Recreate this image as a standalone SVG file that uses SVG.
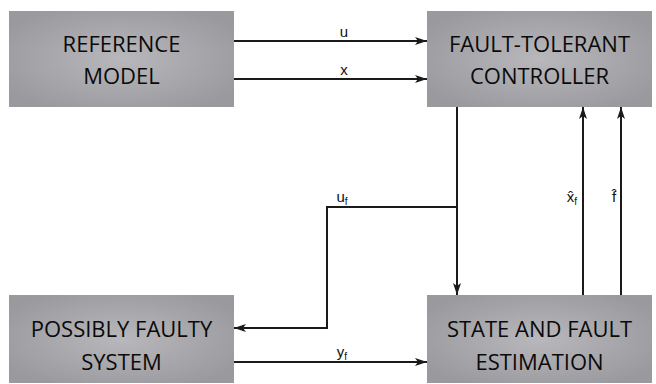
<svg xmlns="http://www.w3.org/2000/svg" width="656" height="384" viewBox="0 0 656 384">
  <defs>
    <radialGradient id="boxFill" cx="50%" cy="50%" r="60%">
      <stop offset="0" stop-color="#b8b8bc"/>
      <stop offset="1" stop-color="#9a9a9e"/>
    </radialGradient>
    <marker id="arrow" viewBox="0 0 12 8" refX="12" refY="4" markerWidth="12" markerHeight="8" markerUnits="userSpaceOnUse" orient="auto">
      <path d="M0,0 L12,4 L0,8 L3,4 Z" fill="#1a1a1a"/>
    </marker>
  </defs>
  <style>
    .box { fill: url(#boxFill); }
    .title { font-family: "Open Sans", "Noto Sans", sans-serif; font-size: 22px; fill: #0a0a0a; text-anchor: middle; }
    .wire { fill: none; stroke: #1a1a1a; stroke-width: 2; }
    .lbl { font-family: "Liberation Sans", Arial, sans-serif; font-size: 15px; fill: #111; text-anchor: middle; }
    .sub { font-size: 10px; }
  </style>
  <rect width="656" height="384" fill="#ffffff"/>

  <g id="reference-model">
    <rect class="box" x="9" y="11" width="225" height="96"/>
    <text class="title" x="121.5" y="52">REFERENCE</text>
    <text class="title" x="121.5" y="84">MODEL</text>
  </g>

  <g id="fault-tolerant-controller">
    <rect class="box" x="427" y="11" width="225" height="96"/>
    <text class="title" x="539.5" y="52">FAULT-TOLERANT</text>
    <text class="title" x="539.5" y="84">CONTROLLER</text>
  </g>

  <g id="possibly-faulty-system">
    <rect class="box" x="9" y="295" width="225" height="88"/>
    <text class="title" x="121.5" y="337">POSSIBLY FAULTY</text>
    <text class="title" x="121.5" y="370">SYSTEM</text>
  </g>

  <g id="state-fault-estimation">
    <rect class="box" x="427" y="295" width="225" height="88"/>
    <text class="title" x="539.5" y="337">STATE AND FAULT</text>
    <text class="title" x="539.5" y="370">ESTIMATION</text>
  </g>

  <g id="connectors">
    <path class="wire" d="M234,41 H427" marker-end="url(#arrow)"/>
    <path class="wire" d="M234,79 H427" marker-end="url(#arrow)"/>
    <path class="wire" d="M457,107 V295" marker-end="url(#arrow)"/>
    <path class="wire" d="M457,207 H327 V328 H234" marker-end="url(#arrow)"/>
    <path class="wire" d="M234,362 H427" marker-end="url(#arrow)"/>
    <path class="wire" d="M583,295 V107" marker-end="url(#arrow)"/>
    <path class="wire" d="M621,295 V107" marker-end="url(#arrow)"/>

    <text class="lbl" x="344" y="37">u</text>
    <text class="lbl" x="344" y="75">x</text>
    <text class="lbl" x="342" y="202">u<tspan class="sub" dy="3">f</tspan></text>
    <text class="lbl" x="342" y="357">y<tspan class="sub" dy="3">f</tspan></text>
    <text class="lbl" x="572" y="202">x&#770;<tspan class="sub" dy="3">f</tspan></text>
    <text class="lbl" x="614" y="202">f&#770;</text>
  </g>
</svg>
